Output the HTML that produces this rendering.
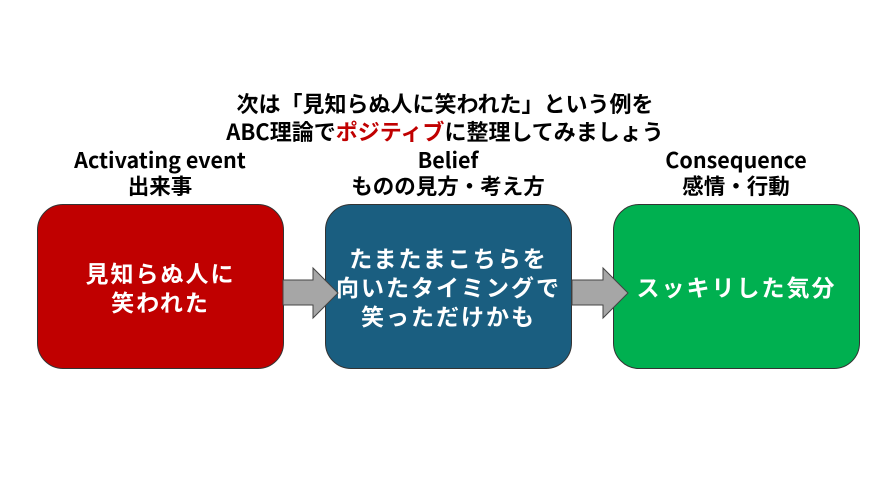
<!DOCTYPE html>
<html><head><meta charset="utf-8"><style>
body{margin:0;width:890px;height:500px;background:#fff;position:relative;overflow:hidden;font-family:"Noto Sans CJK JP","Liberation Sans",sans-serif;font-weight:bold;}
.t{position:absolute;left:0;width:890px;text-align:center;font-size:22px;line-height:28px;color:#000;}
.lab{position:absolute;width:300px;text-align:center;font-size:21.5px;line-height:26px;}
.box{position:absolute;top:204px;width:247px;height:165px;border:1px solid #333;border-radius:26px;box-sizing:border-box;display:flex;align-items:center;justify-content:center;text-align:center;color:#fff;font-size:23px;letter-spacing:2px;line-height:29px;}
svg{position:absolute;left:0;top:0}
</style></head><body>
<div class="t" style="top:89px">次は「見知らぬ人に笑われた」という例を<br>ABC理論で<span style="color:#c00000">ポジティブ</span>に整理してみましょう</div>
<div class="lab" style="left:10px;top:147px">Activating event<br>出来事</div>
<div class="lab" style="left:298px;top:147px">Belief<br>ものの見方・考え方</div>
<div class="lab" style="left:586px;top:147px">Consequence<br>感情・行動</div>
<div class="box" style="left:37px;background:#c00000">見知らぬ人に<br>笑われた</div>
<div class="box" style="left:325px;background:#1a5e80">たまたまこちらを<br>向いたタイミングで<br>笑っただけかも</div>
<div class="box" style="left:613px;background:#00b050">スッキリした気分</div>
<svg width="890" height="500">
<polygon points="283,280 313,280 313,268 338,293 313,318 313,305 283,305" fill="#a6a6a6" stroke="#444" stroke-width="1"/>
<polygon points="572,280 603,280 603,268 628,293 603,318 603,305 572,305" fill="#a6a6a6" stroke="#444" stroke-width="1"/>
</svg>
</body></html>
